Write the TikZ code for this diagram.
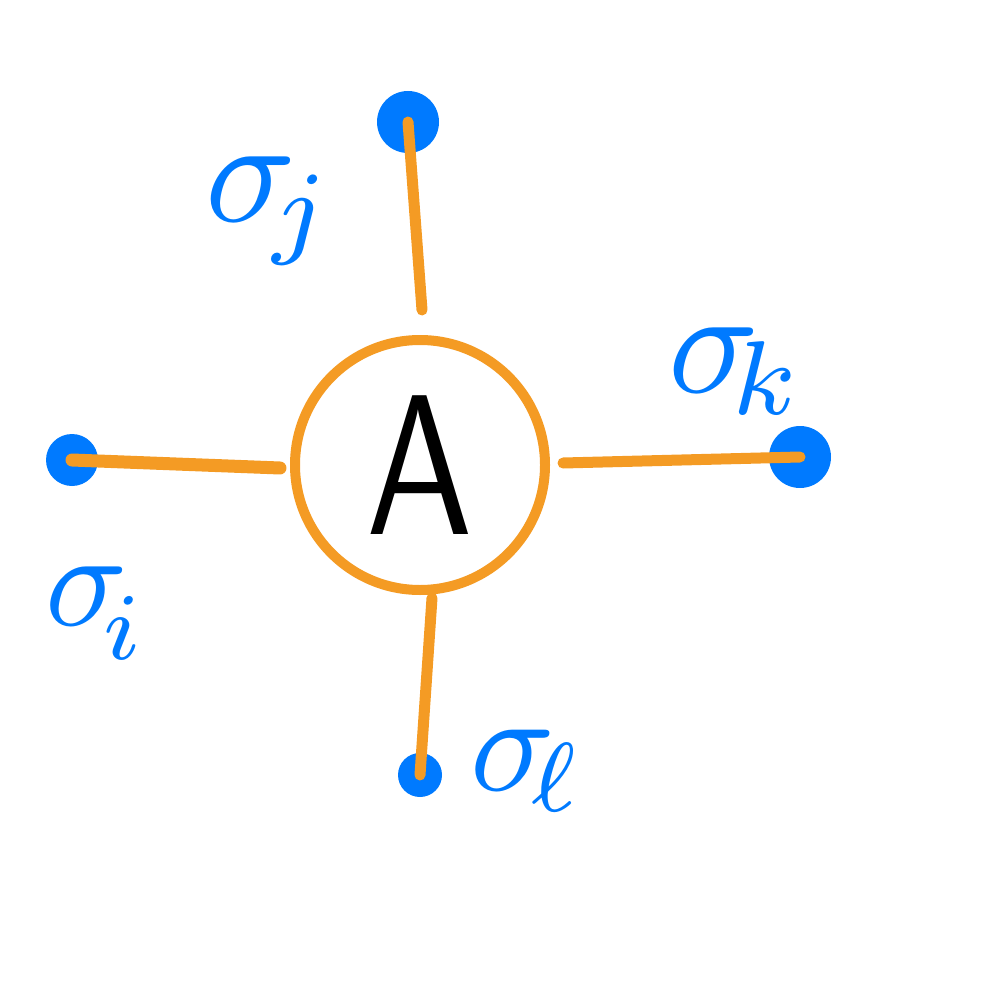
\documentclass[tikz,border=0pt]{standalone}
\definecolor{ora}{RGB}{244,155,36}
\definecolor{blu}{RGB}{0,122,255}
\begin{document}
\begin{tikzpicture}[x=0.5pt,y=-0.5pt,
  leg/.style={draw=ora,line width=5.5pt,line cap=round},
  dot/.style={circle,fill=blu,inner sep=0pt},
  lab/.style={text=blu,inner sep=0pt,anchor=base west}]
\useasboundingbox (0,0) rectangle (1001,1000);
\node[circle,draw=ora,line width=5pt,minimum size=125pt,inner sep=0pt] (A) at (420,465) {\scalebox{8}[10]{\sffamily A}};
\node[dot,minimum size=31pt] (dj) at (408,122) {};
\node[dot,minimum size=26pt] (di) at (72,460) {};
\node[dot,minimum width=23pt,minimum height=31pt] (dk) at (800,457) {};
\node[dot,minimum size=22pt] (dl) at (420,775) {};
\coordinate (sj) at (422,310);
\coordinate (si) at (280,468);
\coordinate (sk) at (563,463);
\coordinate (sl) at (432,598);
\draw[leg] (sj) -- (dj.center);
\draw[leg,line width=6.5pt] (si) -- (di.center);
\draw[leg] (sk) -- (dk.center);
\draw[leg] (sl) -- (dl.center);
\node[lab] (lj) at (205,222) {\scalebox{7.5}{$\sigma_{\kern-1.3pt j}$}};
\node[lab] (lk) at (668,392) {\scalebox{7.5}{$\sigma_{\kern-1.5pt k}$}};
\node[lab] (li) at (45,625) {\scalebox{6.8}{$\sigma_{\kern-1.5pt \raisebox{-1pt}{$\scriptstyle i$}}$}};
\node[lab] (ll) at (470,790) {\scalebox{7}{$\sigma_{\kern-1.4pt \ell}$}};
\end{tikzpicture}
\end{document}
